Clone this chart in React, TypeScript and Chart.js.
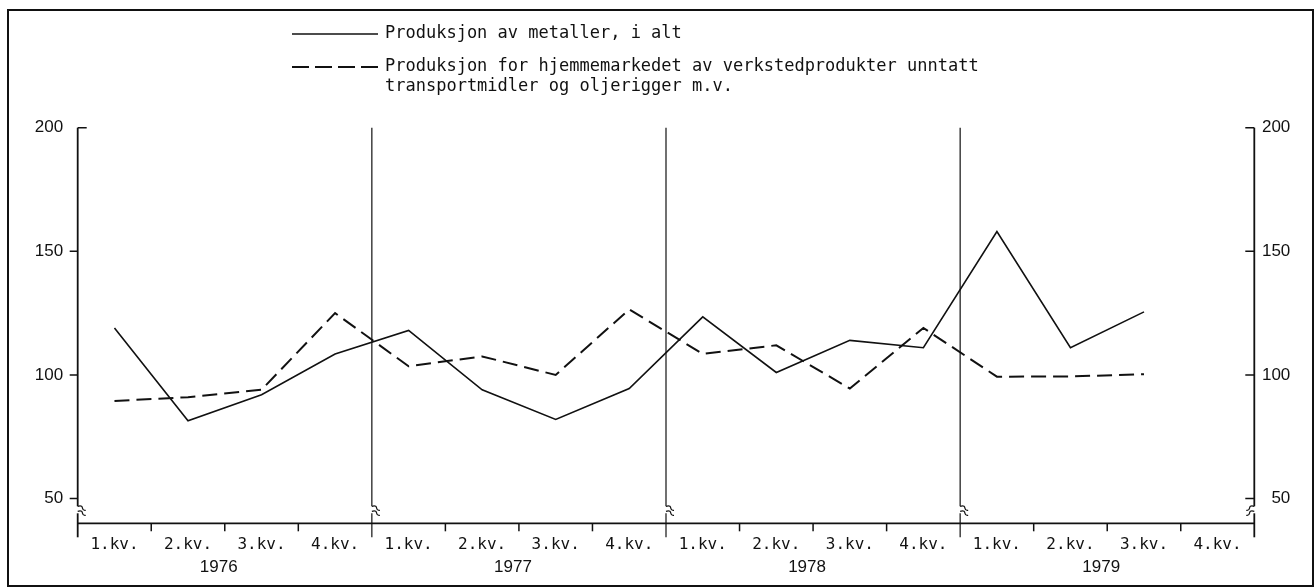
import React, { useEffect, useRef } from "react";
import { Chart, registerables } from "chart.js";

Chart.register(...registerables);

const quarters = ["1.kv.", "2.kv.", "3.kv.", "4.kv."];
const years = ["1976", "1977", "1978", "1979"];
const categories = years.flatMap((y) => quarters.map((q) => `${q} ${y}`));

// Produksjon av metaller, i alt
const metals: (number | null)[] = [119, 81.5, 92, 108.5, 118, 94, 82, 94.5, 123.5, 101, 114, 111, 158, 111, 125.5, null];
// Produksjon for hjemmemarkedet av verkstedprodukter ...
const homeMarket: (number | null)[] = [89.5, 91, 94, 125, 103.5, 107.5, 100, 126.5, 108.5, 112, 94.5, 119, 99.3, 99.4, 100.3, null];

const yTicks = [50, 100, 150, 200];
const yMin = 40;
const yMax = 200;

const legendSolid = "Produksjon av metaller, i alt";
const legendDashed = [
  "Produksjon for hjemmemarkedet av verkstedprodukter unntatt",
  "transportmidler og oljerigger m.v.",
];

const INK = "#111";
const MONO = '"DejaVu Sans Mono", "Liberation Mono", monospace';
const SANS = '"Liberation Sans", Arial, sans-serif';

const decorPlugin = {
  id: "decor",
  afterDraw(chart: any) {
    const ctx: CanvasRenderingContext2D = chart.ctx;
    const xs = chart.scales.x;
    const ys = chart.scales.y;
    const left = chart.chartArea.left;
    const right = chart.chartArea.right;
    const top = ys.getPixelForValue(yMax);
    const base = ys.getPixelForValue(yMin);
    const n = categories.length;
    const qw = (right - left) / n;

    ctx.save();
    ctx.strokeStyle = INK;
    ctx.fillStyle = INK;
    ctx.setLineDash([]);

    // frame
    ctx.lineWidth = 2;
    ctx.strokeRect(8, 10, 1305, 576);

    // baseline
    ctx.lineWidth = 1.8;
    ctx.beginPath();
    ctx.moveTo(left, base);
    ctx.lineTo(right, base);
    ctx.stroke();

    // year dividers & axes with break marks
    for (let k = 0; k <= years.length; k++) {
      const x = left + k * 4 * qw;
      const isAxis = k === 0 || k === years.length;
      ctx.lineWidth = isAxis ? 1.8 : 1.2;
      const side = k === years.length ? -1 : 1;
      ctx.beginPath();
      ctx.moveTo(x, top);
      ctx.lineTo(x, base - 17);
      ctx.stroke();
      ctx.lineWidth = 1.3;
      ctx.beginPath();
      ctx.moveTo(x, base - 17);
      ctx.bezierCurveTo(x + side * 8, base - 19, x + side * 2, base - 12, x + side * 8, base - 13);
      ctx.stroke();
      ctx.beginPath();
      ctx.moveTo(x, base - 12);
      ctx.bezierCurveTo(x + side * 8, base - 14, x + side * 2, base - 7, x + side * 8, base - 8);
      ctx.stroke();
      ctx.lineWidth = isAxis ? 1.8 : 1.2;
      ctx.beginPath();
      ctx.moveTo(x, base - 10);
      ctx.lineTo(x, base + 14);
      ctx.stroke();
    }

    // quarter ticks
    ctx.lineWidth = 1.5;
    for (let i = 1; i < n; i++) {
      if (i % 4 === 0) continue;
      const x = left + i * qw;
      ctx.beginPath();
      ctx.moveTo(x, base);
      ctx.lineTo(x, base + 8);
      ctx.stroke();
    }

    // quarter labels
    ctx.font = `16px ${MONO}`;
    ctx.textAlign = "center";
    ctx.textBaseline = "middle";
    for (let i = 0; i < n; i++) {
      ctx.fillText(quarters[i % 4], xs.getPixelForValue(i), base + 22);
    }
    // year labels
    ctx.font = `17px ${SANS}`;
    for (let k = 0; k < years.length; k++) {
      const cx = (xs.getPixelForValue(k * 4) + xs.getPixelForValue(k * 4 + 3)) / 2 - 6;
      ctx.fillText(years[k], cx, base + 44);
    }

    // y ticks & labels, both sides
    ctx.lineWidth = 1.5;
    ctx.font = `17px ${SANS}`;
    ctx.textBaseline = "middle";
    for (const v of yTicks) {
      const y = ys.getPixelForValue(v);
      ctx.beginPath();
      if (v === yMax) {
        ctx.moveTo(left, y);
        ctx.lineTo(left + 9, y);
      } else {
        ctx.moveTo(left - 8, y);
        ctx.lineTo(left, y);
      }
      ctx.moveTo(right - 9, y);
      ctx.lineTo(right, y);
      ctx.stroke();
      ctx.textAlign = "right";
      ctx.fillText(String(v), left - 14.5, y);
      ctx.fillText(String(v), right + 36, y);
    }

    // legend
    const lx0 = 292;
    const lx1 = 378;
    const tx = 385;
    ctx.font = `17px ${MONO}`;
    ctx.textAlign = "left";
    ctx.textBaseline = "middle";
    ctx.lineWidth = 1.5;
    ctx.beginPath();
    ctx.moveTo(lx0, 34);
    ctx.lineTo(lx1, 34);
    ctx.stroke();
    ctx.fillText(legendSolid, tx, 34);

    ctx.lineWidth = 2;
    ctx.setLineDash([17, 6]);
    ctx.beginPath();
    ctx.moveTo(lx0, 67);
    ctx.lineTo(lx1, 67);
    ctx.stroke();
    ctx.setLineDash([]);
    ctx.fillText(legendDashed[0], tx, 67);
    ctx.fillText(legendDashed[1], tx, 87);

    ctx.restore();
  },
};

export default function App() {
  const canvasRef = useRef<HTMLCanvasElement | null>(null);

  useEffect(() => {
    const canvas = canvasRef.current;
    if (!canvas) return;
    const chart = new Chart(canvas, {
      type: "line",
      data: {
        labels: categories,
        datasets: [
          {
            label: legendSolid,
            data: metals,
            borderColor: INK,
            borderWidth: 1.6,
            pointRadius: 0,
            tension: 0,
            fill: false,
          },
          {
            label: legendDashed.join(" "),
            data: homeMarket,
            borderColor: INK,
            borderWidth: 2,
            borderDash: [15, 7],
            pointRadius: 0,
            tension: 0,
            fill: false,
          },
        ],
      },
      options: {
        responsive: false,
        animation: false,
        devicePixelRatio: 1,
        layout: { padding: { left: 77.7, right: 60.7, top: 127.7, bottom: 64.7 } },
        plugins: {
          legend: { display: false },
          tooltip: { enabled: false },
        },
        scales: {
          x: { type: "category", offset: true, display: false },
          y: { type: "linear", min: yMin, max: yMax, display: false },
        },
      },
      plugins: [decorPlugin],
    });
    return () => chart.destroy();
  }, []);

  return (
    <div style={{ position: "absolute", left: 0, top: 0, width: 1315, height: 588, background: "#fff" }}>
      <canvas ref={canvasRef} width={1315} height={588} style={{ width: 1315, height: 588, display: "block" }} />
    </div>
  );
}
